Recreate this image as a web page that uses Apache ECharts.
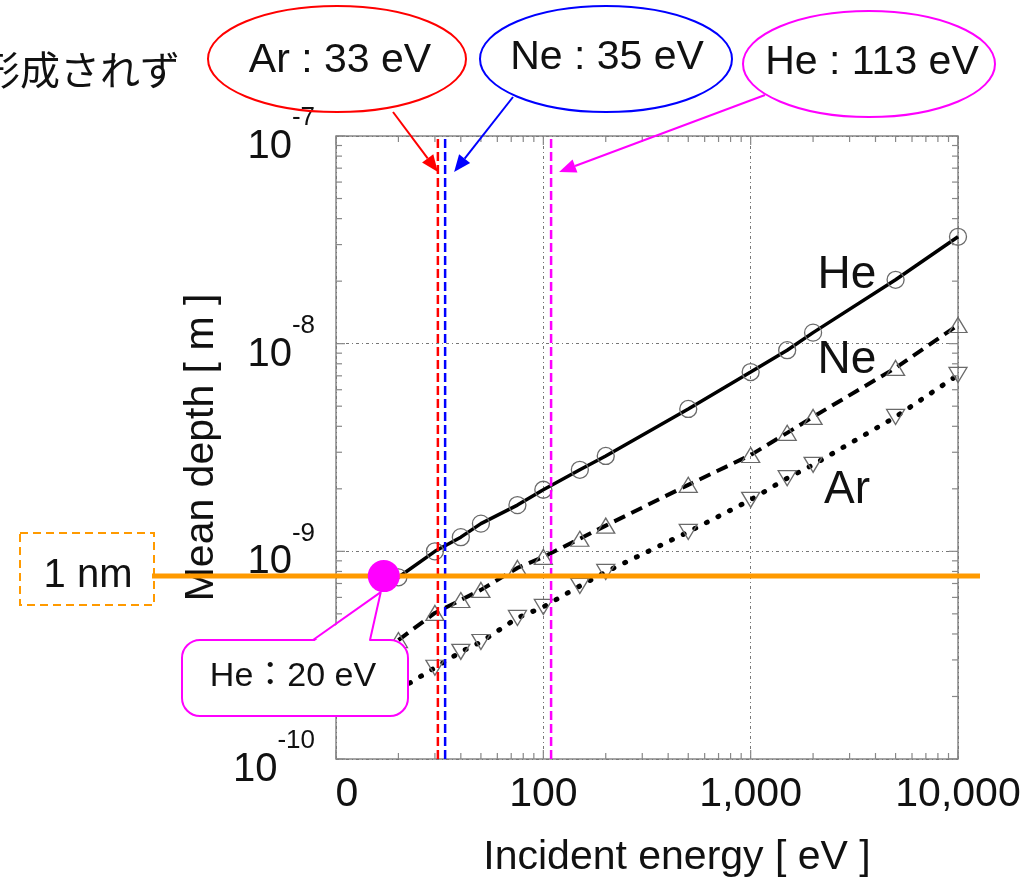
<!DOCTYPE html>
<html style="height: 100%">
<head>
<meta charset="UTF-8" />
<title>Mean depth vs incident energy</title>
<script src="https://cdn.jsdelivr.net/npm/echarts@6/dist/echarts.min.js"></script>
</head>
<body style="height: 100%; margin: 0; background: #fff">
<div id="main" style="width: 1035px; height: 885px"></div>
<script>
// incident energy [eV] of the simulated points
var energies = [20, 30, 40, 50, 75, 100, 150, 200, 500, 1000, 1500, 2000, 5000, 10000];
// mean depth [m]
var heDepth = [7.5e-10, 1.0e-9, 1.17e-9, 1.36e-9, 1.67e-9, 1.98e-9, 2.47e-9, 2.88e-9, 4.85e-9, 7.3e-9, 9.3e-9, 1.13e-8, 2.03e-8, 3.27e-8];
var neDepth = [3.74e-10, 5.05e-10, 5.83e-10, 6.52e-10, 8.32e-10, 9.4e-10, 1.15e-9, 1.33e-9, 2.09e-9, 2.91e-9, 3.72e-9, 4.44e-9, 7.64e-9, 1.23e-8];
var arDepth = [2.15e-10, 2.75e-10, 3.28e-10, 3.66e-10, 4.78e-10, 5.4e-10, 6.81e-10, 7.96e-10, 1.24e-9, 1.77e-9, 2.25e-9, 2.61e-9, 4.44e-9, 7.07e-9];

// threshold energies (dashed verticals) as drawn in the figure
var thresholdNames = ['Ar : 33 eV', 'Ne : 35 eV', 'He : 113 eV'];
var thresholdEnergy = [31, 33.6, 109];
var thresholdColors = ['#ff0000', '#0000ff', '#ff00ff'];

var oneNmDepth = 7.6e-10;          // orange "1 nm" line
var heOnset = [17, 7.6e-10];       // magenta dot
var onsetLabel = 'He：20 eV';

var xTicks = [10, 100, 1000, 10000];
var xTickLabels = ['0', '100', '1,000', '10,000'];
var yTicks = [1e-10, 1e-9, 1e-8, 1e-7];
var yTickExp = ['-10', '-9', '-8', '-7'];

var FONT = "'Liberation Sans', Arial, Helvetica, sans-serif";
var JP = "'Noto Sans CJK JP', 'Liberation Sans', sans-serif";

var chart = echarts.init(document.getElementById('main'));

function pair(xs, ys) {
  return xs.map(function (x, i) { return [x, ys[i]]; });
}
function nearestIndex(list, v) {
  var best = 0;
  list.forEach(function (t, i) {
    if (Math.abs(Math.log10(t) - Math.log10(v)) < Math.abs(Math.log10(list[best]) - Math.log10(v))) best = i;
  });
  return best;
}

var hollow = { color: 'rgba(255,255,255,0)', borderColor: '#6a6a6a', borderWidth: 1.3 };

var series = [
  {
    name: 'He', type: 'line', data: pair(energies, heDepth),
    symbol: 'circle', symbolSize: 17, showAllSymbol: true,
    lineStyle: { color: '#000', width: 3.5 }, itemStyle: hollow, z: 3
  },
  {
    name: 'Ne', type: 'line', data: pair(energies, neDepth),
    symbol: 'triangle', symbolSize: [18, 15], showAllSymbol: true,
    lineStyle: { color: '#000', width: 4, type: [12, 7] }, itemStyle: hollow, z: 3
  },
  {
    name: 'Ar', type: 'line', data: pair(energies, arDepth),
    symbol: 'triangle', symbolRotate: 180, symbolSize: [18, 15], showAllSymbol: true,
    lineStyle: { color: '#000', width: 5, type: [1, 12], cap: 'round' }, itemStyle: hollow, z: 3
  }
];
thresholdEnergy.forEach(function (e, i) {
  series.push({
    name: thresholdNames[i], type: 'line', symbol: 'none',
    data: [[e, yTicks[0]], [e, yTicks[yTicks.length - 1]]],
    lineStyle: { color: thresholdColors[i], width: 2.5, type: [9, 4] }, z: 5
  });
});
series.push({
  name: 'onset', type: 'scatter', data: [heOnset], symbolSize: 32,
  itemStyle: { color: '#ff00ff', opacity: 1 }, z: 10
});

var option = {
  animation: false,
  backgroundColor: '#fff',
  grid: { left: 336, top: 136, width: 622, height: 623, show: true, borderColor: '#888', borderWidth: 1.5 },
  xAxis: {
    type: 'log', logBase: 10, min: 10, max: 10000,
    name: 'Incident energy [ eV ]', nameLocation: 'middle', nameGap: 78,
    nameTextStyle: { fontSize: 41, fontFamily: FONT, color: '#111', padding: [0, 0, 0, 60] },
    axisLine: { show: false }, axisTick: { show: false },
    splitLine: { show: true, lineStyle: { color: '#777', width: 1, type: [3, 3, 1, 3] } },
    axisLabel: {
      margin: 15, fontSize: 41, fontFamily: FONT, color: '#111',
      showMinLabel: true, showMaxLabel: true,
      formatter: function (v) {
        var i = nearestIndex(xTicks, v);
        return i === 0 ? '{z|' + xTickLabels[i] + '}' : xTickLabels[i];
      },
      rich: { z: { fontSize: 41, fontFamily: FONT, color: '#111', padding: [0, 0, 0, 22] } }
    }
  },
  yAxis: {
    type: 'log', logBase: 10, min: 1e-10, max: 1e-7,
    name: 'Mean depth [ m ]', nameLocation: 'middle', nameGap: 103,
    nameTextStyle: { fontSize: 41, fontFamily: FONT, color: '#111' },
    axisLine: { show: false }, axisTick: { show: false },
    splitLine: { show: true, lineStyle: { color: '#777', width: 1, type: [3, 3, 1, 3] } },
    axisLabel: {
      margin: 21, showMinLabel: true, showMaxLabel: true,
      formatter: function (v) {
        return '{b|10}{s|' + yTickExp[nearestIndex(yTicks, v)] + '}';
      },
      rich: {
        b: { fontSize: 40, fontFamily: FONT, color: '#111', padding: [22, 0, 0, 0], verticalAlign: 'bottom' },
        s: { fontSize: 26, fontFamily: FONT, color: '#111', padding: [0, 0, 36, 0], verticalAlign: 'top' }
      }
    }
  },
  series: series
};
chart.setOption(option);

// ---- annotations: ticks on all four sides, orange 1 nm line, callouts ----
function P(x, y) { return chart.convertToPixel({ gridIndex: 0 }, [x, y]); }
var g = [];
var tl = P(xTicks[0], yTicks[yTicks.length - 1]);
var br = P(xTicks[xTicks.length - 1], yTicks[0]);

function seg(x1, y1, x2, y2, color, w, z, dash) {
  g.push({ type: 'line', silent: true, z: z,
    shape: { x1: x1, y1: y1, x2: x2, y2: y2 },
    style: { stroke: color, lineWidth: w, lineDash: dash || null } });
}
xTicks.forEach(function (d, i) {
  var p = P(d, yTicks[0])[0];
  seg(p, br[1], p, br[1] - 9, '#888', 1.2, 4);
  seg(p, tl[1], p, tl[1] + 9, '#888', 1.2, 4);
  if (i < xTicks.length - 1) {
    for (var k = 2; k <= 9; k++) {
      var q = P(d * k, yTicks[0])[0];
      seg(q, br[1], q, br[1] - 6, '#888', 1.2, 4);
      seg(q, tl[1], q, tl[1] + 6, '#888', 1.2, 4);
    }
  }
});
yTicks.forEach(function (d, i) {
  var p = P(xTicks[0], d)[1];
  seg(tl[0], p, tl[0] + 9, p, '#888', 1.2, 4);
  seg(br[0], p, br[0] - 9, p, '#888', 1.2, 4);
  if (i < yTicks.length - 1) {
    for (var k = 2; k <= 9; k++) {
      var q = P(xTicks[0], d * k)[1];
      seg(tl[0], q, tl[0] + 6, q, '#888', 1.2, 4);
      seg(br[0], q, br[0] - 6, q, '#888', 1.2, 4);
    }
  }
});

// orange 1 nm line, running out past the left axis
var yNm = P(xTicks[0], oneNmDepth)[1];
seg(152, yNm, 980, yNm, '#ff9a00', 5, 6);
g.push({ type: 'rect', silent: true, z: 6,
  shape: { x: 20, y: yNm - 43, width: 134, height: 72 },
  style: { fill: 'none', stroke: '#ff9a00', lineWidth: 2, lineDash: [8, 5] } });

function label(text, x, y, size, font, z) {
  g.push({ type: 'text', silent: true, z: z || 20, x: x, y: y,
    style: { text: text, fontSize: size, fontFamily: font || FONT, fill: '#111', align: 'center', verticalAlign: 'middle' } });
}
label('1 nm', 88, yNm, 40);

// arrows from the threshold ellipses
function arrow(x1, y1, x2, y2, color) {
  var dx = x2 - x1, dy = y2 - y1, len = Math.sqrt(dx * dx + dy * dy);
  var ux = dx / len, uy = dy / len, hl = 17, hw = 7;
  var bx = x2 - ux * hl, by = y2 - uy * hl;
  seg(x1, y1, bx, by, color, 2, 21);
  g.push({ type: 'polygon', silent: true, z: 21,
    shape: { points: [[x2, y2], [bx - uy * hw, by + ux * hw], [bx + uy * hw, by - ux * hw]] },
    style: { fill: color } });
}
var ellipses = [
  { cx: 337, cy: 59, rx: 129, ry: 53, tx: 340, ty: 61, from: [393, 112], off: 0 },
  { cx: 606, cy: 59, rx: 126, ry: 53, tx: 607, ty: 58, from: [513, 97], off: 9 },
  { cx: 869, cy: 64, rx: 126, ry: 53, tx: 872, ty: 63, from: [765, 95], off: 8 }
];
ellipses.forEach(function (e, i) {
  g.push({ type: 'ellipse', silent: true, z: 20,
    shape: { cx: e.cx, cy: e.cy, rx: e.rx, ry: e.ry },
    style: { fill: 'none', stroke: thresholdColors[i], lineWidth: 2 } });
  label(thresholdNames[i], e.tx, e.ty, 41);
  var lx = P(thresholdEnergy[i], yTicks[0])[0];
  arrow(e.from[0], e.from[1], lx + e.off, 172, thresholdColors[i]);
});

// series names inside the plot
label('He', 847, 275, 46);
label('Ne', 847, 360, 46);
label('Ar', 847, 490, 46);

// cut-off Japanese caption at top-left
g.push({ type: 'text', silent: true, z: 20, x: -20, y: 70,
  style: { text: '形成されず', fontSize: 40, fontFamily: JP, fill: '#111', align: 'left', verticalAlign: 'middle' } });

// callout for the He onset dot
var dot = P(heOnset[0], heOnset[1]);
var tip = [dot[0] - 3, dot[1] + 16];
g.push({ type: 'rect', silent: true, z: 22,
  shape: { x: 182, y: 640, width: 226, height: 76, r: 18 },
  style: { fill: '#fff', stroke: '#ff00ff', lineWidth: 2 } });
g.push({ type: 'polygon', silent: true, z: 23,
  shape: { points: [[314, 641.5], tip, [369, 641.5]] },
  style: { fill: '#fff' } });
seg(313, 640, tip[0], tip[1], '#ff00ff', 2, 24);
seg(370, 640, tip[0], tip[1], '#ff00ff', 2, 24);
label(onsetLabel, 293, 677, 34, "'Liberation Sans', 'Noto Sans CJK JP', sans-serif", 25);

chart.setOption({ graphic: { elements: g } });
</script>
</body>
</html>
